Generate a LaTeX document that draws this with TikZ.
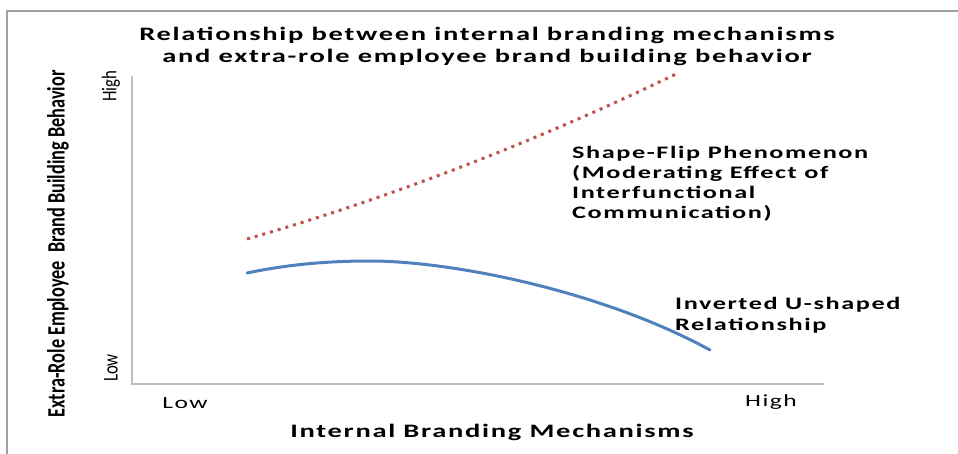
\documentclass[tikz,border=0pt]{standalone}
\usepackage{fontspec}
\setmainfont{Carlito}
\newfontfamily\headfont[FakeStretch=1.5,LetterSpace=9]{Carlito}
\newfontfamily\sidefont[FakeStretch=0.8]{Carlito}
\newfontfamily\narrowfont[FakeStretch=0.73]{Carlito}
\definecolor{frameGray}{RGB}{160,160,160}
\definecolor{axisGray}{RGB}{191,191,191}
\definecolor{curveBlue}{RGB}{79,129,189}
\definecolor{curveRed}{RGB}{192,80,77}

\begin{document}
\begin{tikzpicture}[x=1pt,y=-1pt,
  axis/.style={draw=axisGray,line width=1.3},
  headtext/.style={font=\headfont\bfseries\fontsize{19}{22}\selectfont,inner sep=0},
  notetext/.style={font=\headfont\bfseries\fontsize{17.5}{20.3}\selectfont,align=left,anchor=base west,inner sep=0},
  ticktext/.style={font=\headfont\fontsize{17}{20}\selectfont,inner sep=0},
  sidetext/.style={font=\sidefont\fontsize{21}{23}\selectfont,rotate=90,inner sep=0}]
\useasboundingbox (0,0) rectangle (958,454);
%框
\draw [frameGray,line width=1.5] (958,11) -- (7,11) -- (7,454);
%坐标轴
\draw [axis] (132,76) -- (132,384) -- (824,384);
%曲线
\draw [curveRed,line width=3,dash pattern=on 3 off 5] (247,239) .. controls (400,195) and (550,135) .. (676,74);
\draw [curveBlue,line width=3,line cap=round] (247,273) .. controls (290,264) and (330,261) .. (370,261) .. controls (450,261) and (600,290) .. (710,350);
%Text
\node [headtext,align=center] (title) at (487,46) {Relationship between internal branding mechanisms\\and extra-role employee brand building behavior};
\node [headtext] (xtitle) at (492,432) {Internal Branding Mechanisms};
\node [ticktext] (xlow) at (185,403) {Low};
\node [ticktext] (xhigh) at (771,402) {High};
\node [sidetext] (yhigh) at (111,86) {High};
\node [sidetext] (ylow) at (111,368) {Low};
\node [font=\narrowfont\bfseries\fontsize{25}{28}\selectfont,rotate=90,inner sep=0] (ytitle) at (58,244) {Extra-Role Employee\ \ Brand Building Behavior};
\node [notetext] (flip) at (572,219) {Shape-Flip Phenomenon\\(Moderating Effect of\\Interfunctional\\Communication)};
\node [notetext] (invu) at (675,330) {Inverted U-shaped\\Relationship};
\end{tikzpicture}
\end{document}
